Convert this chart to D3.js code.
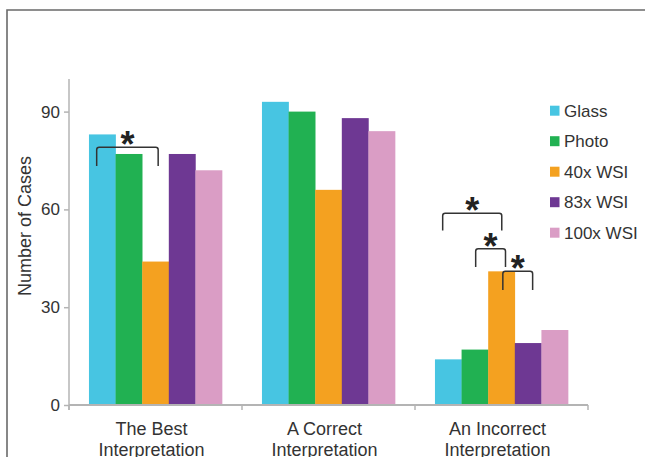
<!DOCTYPE html>
<html>
<head>
<meta charset="utf-8">
<script src="https://cdn.jsdelivr.net/npm/d3@7"></script>
<style>
  body { margin: 0; background: #fff; }
  svg { display: block; font-family: 'Liberation Sans', Arial, sans-serif; }
</style>
</head>
<body>
<svg id="chart" width="645" height="457"></svg>
<script>
const width = 645
const height = 457

// data
const categories = ['The Best Interpretation', 'A Correct Interpretation', 'An Incorrect Interpretation']
const series = ['Glass', 'Photo', '40x WSI', '83x WSI', '100x WSI']
const colors = ['#47c5e2', '#21b152', '#f4a120', '#6e3893', '#da9dc5']
const values = [
  [83, 77, 44, 77, 72],
  [93, 90, 66, 88, 84],
  [14, 17, 41, 19, 23]
]
const yTicks = [0, 30, 60, 90]

// significance brackets: group, from series (fraction across bar), to series, top and leg values
const brackets = [
  { group: 0, a: 0, fa: 0.29, b: 2, fb: 0.6, top: 79.1, leg: 73.3 },
  { group: 2, a: 0, fa: 0.29, b: 2, fb: 0.51, top: 58.8, leg: 53.5 },
  { group: 2, a: 1, fa: 0.53, b: 2, fb: 0.65, top: 47.9, leg: 42.3 },
  { group: 2, a: 2, fa: 0.55, b: 3, fb: 0.67, top: 41.0, leg: 35.3 }
]

const svg = d3.select('svg#chart')

const x0 = d3.scaleBand()
  .domain(categories)
  .range([69, 588])

const x1 = d3.scaleBand()
  .domain(series)
  .range([0, x0.bandwidth()])
  .paddingInner(0)
  .paddingOuter(0.75)

const y = d3.scaleLinear()
  .domain([0, 100])
  .range([405, 79])

const color = d3.scaleOrdinal(series, colors)

// outer frame (cut off at right and bottom)
svg.append('path')
  .attr('d', `M7,${height + 5}V10H${width + 5}`)
  .attr('fill', 'none')
  .attr('stroke', '#6a6a6a')
  .attr('stroke-width', 1.6)

// bars
const groups = svg.append('g')
  .selectAll('g')
  .data(values)
  .join('g')
  .attr('transform', (d, i) => `translate(${x0(categories[i])},0)`)

groups.selectAll('rect')
  .data(d => d.map((v, j) => ({ key: series[j], value: v })))
  .join('rect')
  .attr('x', d => x1(d.key))
  .attr('width', x1.bandwidth() + 0.3)
  .attr('y', d => y(d.value))
  .attr('height', d => y(0) - y(d.value))
  .attr('fill', d => color(d.key))

// y axis
const yAxis = svg.append('g')
  .attr('transform', 'translate(69,0)')
  .call(d3.axisLeft(y).tickValues(yTicks).tickSize(5).tickPadding(4).tickSizeOuter(0))
yAxis.select('.domain').remove()
yAxis.selectAll('.tick line').attr('stroke', '#b4b4b4').attr('stroke-width', 1.5)
yAxis.selectAll('.tick text')
  .attr('fill', '#333')
  .style('font-size', '17px')
  .style('font-family', "'Liberation Sans', Arial, sans-serif")

svg.append('line')
  .attr('x1', 69).attr('x2', 69)
  .attr('y1', y(100)).attr('y2', y(0) + 5)
  .attr('stroke', '#b4b4b4')
  .attr('stroke-width', 1.5)

// x axis
const xEdge = x0.range()
svg.append('line')
  .attr('x1', xEdge[0]).attr('x2', xEdge[1])
  .attr('y1', y(0)).attr('y2', y(0))
  .attr('stroke', '#b4b4b4')
  .attr('stroke-width', 2)

const boundaries = categories.map(c => x0(c)).concat([xEdge[1]])
svg.append('g')
  .selectAll('line')
  .data(boundaries)
  .join('line')
  .attr('x1', d => d).attr('x2', d => d)
  .attr('y1', y(0)).attr('y2', y(0) + 5)
  .attr('stroke', '#b4b4b4')
  .attr('stroke-width', 1.5)

const xLabels = svg.append('g')
  .selectAll('text')
  .data(categories)
  .join('text')
  .attr('x', d => x0(d) + x0.bandwidth() / 2 - 4)
  .attr('y', 434.5)
  .attr('text-anchor', 'middle')
  .attr('fill', '#333')
  .style('font-size', '18px')

xLabels.selectAll('tspan')
  .data(d => {
    const words = d.split(' ')
    return [words.slice(0, -1).join(' '), words[words.length - 1]]
  })
  .join('tspan')
  .attr('x', function () { return d3.select(this.parentNode).attr('x') })
  .attr('dy', (d, i) => i === 0 ? 0 : 21)
  .text(d => d)

// y axis title
svg.append('text')
  .attr('transform', 'translate(31,226) rotate(-90)')
  .attr('text-anchor', 'middle')
  .attr('fill', '#333')
  .style('font-size', '18px')
  .text('Number of Cases')

// legend
const legend = svg.append('g')
  .selectAll('g')
  .data(series)
  .join('g')
  .attr('transform', (d, i) => `translate(550,${110.7 + i * 30.5})`)

legend.append('rect')
  .attr('x', 0)
  .attr('y', -5)
  .attr('width', 9.5)
  .attr('height', 10)
  .attr('fill', d => color(d))

legend.append('text')
  .attr('x', 14)
  .attr('dy', '0.35em')
  .attr('fill', '#333')
  .style('font-size', '17px')
  .text(d => d)

// significance brackets
const bx = (g, s, f) => x0(categories[g]) + x1(series[s]) + f * x1.bandwidth()

const br = svg.append('g')
  .selectAll('g')
  .data(brackets)
  .join('g')

br.append('path')
  .attr('d', d => {
    const l = bx(d.group, d.a, d.fa)
    const r = bx(d.group, d.b, d.fb)
    const t = y(d.top)
    const b = y(d.leg)
    return `M${l},${b}V${t + 2.5}Q${l},${t} ${l + 2.5},${t}H${r - 2.5}Q${r},${t} ${r},${t + 2.5}V${b}`
  })
  .attr('fill', 'none')
  .attr('stroke', '#333')
  .attr('stroke-width', 1.5)

br.append('text')
  .attr('x', d => (bx(d.group, d.a, d.fa) + bx(d.group, d.b, d.fb)) / 2)
  .attr('y', d => y(d.top) + 10)
  .attr('text-anchor', 'middle')
  .attr('fill', '#222')
  .style('font-size', '36px')
  .style('font-weight', 'bold')
  .text('*')
</script>
</body>
</html>
